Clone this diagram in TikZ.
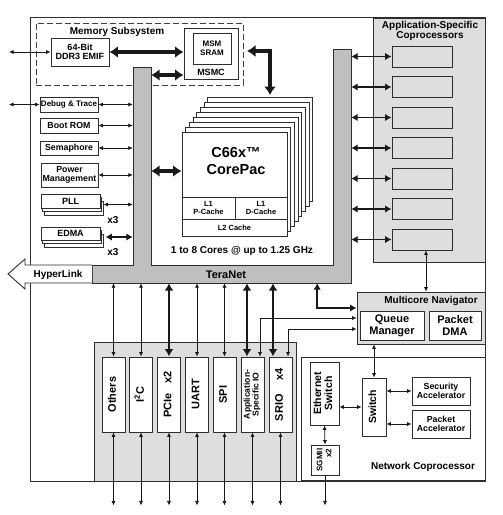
\documentclass[tikz,border=0pt]{standalone}
\usepackage{fontspec}
\setmainfont{Liberation Sans}
\usepackage{graphicx}
\usetikzlibrary{arrows.meta,calc}
\newcommand\myfs[2]{\fontsize{#1}{#2}\selectfont}
\newcommand\rotxt[2][c]{\rotatebox{90}{\begin{tabular}{@{}#1@{}}#2\end{tabular}}}
\begin{document}
\begin{tikzpicture}[x=1pt,y=-1pt,
  ln/.style={draw=black!82, line width=0.9pt},
  box/.style={ln, fill=white, inner sep=0pt, font=\bfseries, align=center},
  graybox/.style={ln, fill=black!13, inner sep=0pt},
  lbl/.style={inner sep=0pt, align=center, font=\bfseries},
  thinarr/.style={draw=black!90, line width=0.75pt, {Latex[length=4.5pt,width=4.2pt]}-{Latex[length=4.5pt,width=4.2pt]}},
  onearr/.style={draw=black!90, line width=0.75pt, -{Latex[length=4.5pt,width=4.2pt]}},
  midarr/.style={draw=black!90, line width=1.9pt, {Latex[length=6.5pt,width=7.5pt]}-{Latex[length=6.5pt,width=7.5pt]}},
  pcarr/.style={draw=black!90, line width=2.6pt, {Latex[length=7.5pt,width=9pt]}-{Latex[length=7.5pt,width=9pt]}},
  bigarr/.style={draw=black!90, line width=3.8pt, {Latex[length=8.5pt,width=12pt]}-{Latex[length=8.5pt,width=12pt]}},
]
\useasboundingbox (0,0) rectangle (503,515);
\fill[white] (0,0) rectangle (503,515);

% outer chip box
\node[ln, line width=1pt, inner sep=0pt, minimum width=455pt, minimum height=464pt] (chip) at (257.5,249) {};

% memory subsystem
\node[draw=black!75, line width=0.9pt, dash pattern=on 6pt off 3pt, inner sep=0pt, minimum width=207pt, minimum height=62pt] (memsub) at (139.5,54) {};
\node[lbl, font=\bfseries\myfs{10}{11}] (memsubt) at (117,32) {Memory Subsystem};
\node[box, minimum width=58pt, minimum height=28pt, font=\bfseries\myfs{9}{9.5}] (emif) at (80,52) {64-Bit\\DDR3 EMIF};
\node[box, minimum width=54pt, minimum height=51pt] (msmc) at (211,53.5) {};
\node[box, minimum width=38pt, minimum height=31pt, font=\bfseries\myfs{8}{9}] (msmsram) at (212,48.5) {MSM\\SRAM};
\node[lbl, font=\bfseries\myfs{9}{10}] (msmct) at (211,72) {MSMC};

% TeraNet
\draw[ln, fill=black!25] (133,67) -- (151,67) -- (151,265) -- (333,265) -- (333,49) -- (351,49) -- (351,283) -- (92,283) -- (92,265) -- (133,265) -- cycle;
\draw[ln, fill=white] (92,265) -- (25,265) -- (25,259) -- (8,274) -- (25,289) -- (25,283) -- (92,283);
\node[inner sep=0pt, minimum width=18pt, minimum height=198pt] (lbar) at (142,166) {};
\node[inner sep=0pt, minimum width=18pt, minimum height=234pt] (rbar) at (342,166) {};
\node[inner sep=0pt, minimum width=259pt, minimum height=18pt] (tnet) at (221.5,274) {};
\node[lbl, font=\bfseries\myfs{10}{11}] (hlt) at (58,275) {HyperLink};
\node[lbl, font=\bfseries\myfs{11}{12}] (tnt) at (226,275) {TeraNet};

% memory arrows
\coordinate (extE) at (9,52);
\draw[thinarr] (extE) -- (emif.west);
\draw[bigarr] (emif.east) -- (emif.east -| msmc.west);
\coordinate (msmcB) at ([yshift=-21.5pt]msmc.west);
\draw[bigarr] (msmcB -| lbar.east) -- (msmcB);
\coordinate (msmcR) at (247,51);
\coordinate (coreTop) at (270,95);
\draw[bigarr] (msmcR) -| (coreTop);

% left column
\node[box, minimum width=58pt, minimum height=15pt, font=\bfseries\myfs{8}{9}] (debug) at (69,104.5) {Debug \& Trace};
\node[box, minimum width=58pt, minimum height=15pt, font=\bfseries\myfs{8.8}{9}] (bootrom) at (69,125.5) {Boot ROM};
\node[box, minimum width=58pt, minimum height=14pt, font=\bfseries\myfs{8.8}{9}] (sema) at (69,148) {Semaphore};
\node[box, minimum width=57pt, minimum height=24pt, font=\bfseries\myfs{8.8}{9.5}] (power) at (69.5,175) {Power\\Management};
\foreach \k in {2,1}
  \node[box, minimum width=59pt, minimum height=14pt] (pllb\k) at ({70.5+1.5*\k},{201+3.5*\k}) {};
\node[box, minimum width=59pt, minimum height=14pt, font=\bfseries\myfs{9}{10}] (pll) at (70.5,201) {PLL};
\foreach \k in {2,1}
  \node[box, minimum width=59pt, minimum height=13pt] (edmab\k) at ({70.5+1.5*\k},{233.5+3.5*\k}) {};
\node[box, minimum width=59pt, minimum height=13pt, font=\bfseries\myfs{9}{10}] (edma) at (70.5,233.5) {EDMA};
\node[lbl, font=\bfseries\myfs{10}{11}] (pllx) at (113,220) {x3};
\node[lbl, font=\bfseries\myfs{10}{11}] (edmax) at (113,252) {x3};

\coordinate (extD) at (9,104.5);
\draw[thinarr] (extD) -- (debug.west);
\foreach \n in {debug,bootrom,sema,power}
  \draw[thinarr] (\n.east) -- (\n.east -| lbar.west);
\draw[thinarr] (pllb2.east |- pllb1.east) -- (pllb1.east -| lbar.west);
\draw[midarr] ([xshift=2pt]edmab2.east |- edmab1.east) -- (edmab1.east -| lbar.west);

% CorePac stack
\foreach \k in {7,6,...,1}
  \node[box, minimum width=105pt, minimum height=104pt] (coreb\k) at ({234.5+3.7*\k},{184-5*\k}) {};
\node[box, minimum width=105pt, minimum height=104pt] (core) at (234.5,184) {};
\node[lbl, font=\bfseries\myfs{14.5}{16.5}] (coret) at (236,161) {C66x™\\CorePac};
\node[box, minimum width=53pt, minimum height=22pt, font=\bfseries\myfs{7.5}{8}] (l1p) at (208.5,208) {L1\\P-Cache};
\node[box, minimum width=52pt, minimum height=22pt, font=\bfseries\myfs{7.5}{8}] (l1d) at (261,208) {L1\\D-Cache};
\node[box, minimum width=105pt, minimum height=17pt, font=\bfseries\myfs{7.5}{8}] (l2) at (234.5,227.5) {L2 Cache};
\node[lbl, font=\bfseries\myfs{10}{11}] (coresl) at (242,251) {1 to 8 Cores @ up to 1.25 GHz};
\coordinate (coreA) at ([yshift=13pt]core.west);
\draw[bigarr] (coreA -| lbar.east) -- (coreA);

% application-specific coprocessors
\node[graybox, minimum width=112pt, minimum height=244pt] (acp) at (429,140) {};
\node[lbl, font=\bfseries\myfs{10}{10}] (acpt) at (430,31) {Application-Specific\\Coprocessors};
\foreach \i in {1,...,7} {
  \node[box, fill=black!13, minimum width=60pt, minimum height=21pt] (acp\i) at (422,{26+30.5*\i}) {};
  \draw[midarr] (acp\i.west -| rbar.east) -- (acp\i.west);
}

% multicore navigator
\node[graybox, minimum width=128pt, minimum height=52pt] (nav) at (421,318) {};
\node[lbl, font=\bfseries\myfs{10}{11}] (navt) at (431,301) {Multicore Navigator};
\node[box, minimum width=64pt, minimum height=29pt, font=\bfseries\myfs{11}{12}] (qm) at (392,325.5) {Queue\\Manager};
\node[box, minimum width=52pt, minimum height=29pt, font=\bfseries\myfs{11}{12}] (pdma) at (455,325.5) {Packet\\DMA};
\coordinate (acpB) at ([xshift=4pt]acp7.south);
\draw[thinarr] (acpB) -- (acpB |- nav.north);

% peripherals
\node[graybox, minimum width=202pt, minimum height=139pt] (perg) at (195,411.5) {};
\node[box, minimum width=23pt, minimum height=75pt, font=\bfseries\myfs{11}{12}] (others) at (113.5,394.5) {\rotxt{Others}};
\node[box, minimum width=23pt, minimum height=75pt, font=\bfseries\myfs{11}{12}] (i2c) at (141,394.5) {\rotxt{I\textsuperscript{2}C}};
\node[box, minimum width=23pt, minimum height=75pt, font=\bfseries\myfs{11}{12}] (pcie) at (169,394.5) {\rotxt{PCIe\hspace{9pt}x2}};
\node[box, minimum width=23pt, minimum height=75pt, font=\bfseries\myfs{11}{12}] (uart) at (197,394.5) {\rotxt{UART}};
\node[box, minimum width=23pt, minimum height=75pt, font=\bfseries\myfs{11}{12}] (spi) at (224.5,394.5) {\rotxt{SPI}};
\node[box, minimum width=23pt, minimum height=75pt, font=\bfseries\myfs{8.5}{8.5}] (asio) at (252.5,394.5) {\rotxt{Application-\\Specific IO}};
\node[box, minimum width=23pt, minimum height=75pt, font=\bfseries\myfs{11}{12}] (srio) at (280.5,394.5) {\rotxt{SRIO\hspace{14pt}x4}};

\foreach \n in {others,i2c,uart,spi}
  \draw[thinarr] (\n.north |- tnet.south) -- (\n.north);
\draw[pcarr] (pcie.north |- tnet.south) -- (pcie.north);
\coordinate (asioA) at ([xshift=-5.5pt]asio.north);
\coordinate (srioA) at ([xshift=-7.5pt]srio.north);
\draw[pcarr] (asioA |- tnet.south) -- (asioA);
\draw[pcarr] (srioA |- tnet.south) -- (srioA);
\coordinate (asioB) at ([xshift=7.5pt]asio.north);
\coordinate (srioB) at ([xshift=7.5pt]srio.north);
\coordinate (navC) at ([yshift=-11pt]nav.west);
\coordinate (navB) at ([yshift=10pt]nav.west);
\coordinate (tn3) at ([xshift=-34pt]tnet.south east);
\draw[thinarr] (asioB) |- (nav.west);
\draw[thinarr] (srioB) |- (navC);
\draw[midarr] (tn3) |- (navB);
\foreach \n in {others,i2c,pcie,uart,spi,asio,srio}
  \draw[thinarr] (\n.south) -- ([yshift=-73pt]\n.south);

% network coprocessor
\node[box, minimum width=184pt, minimum height=123pt] (netc) at (393,418.5) {};
\node[lbl, font=\bfseries\myfs{10}{11}] (netct) at (423,467) {Network Coprocessor};
\node[box, minimum width=29pt, minimum height=63pt, font=\bfseries\myfs{10.5}{11}] (ethsw) at (324.5,393.5) {\rotxt{Ethernet\\Switch}};
\node[box, minimum width=24pt, minimum height=58pt, font=\bfseries\myfs{10.5}{11}] (switch) at (374,407) {\rotxt{Switch}};
\node[box, minimum width=28pt, minimum height=30pt, font=\bfseries\myfs{8}{9}] (sgmii) at (325,460) {\rotxt[r]{SGMII\\x2}};
\node[box, minimum width=58pt, minimum height=28pt, font=\bfseries\myfs{8.8}{9.5}] (secacc) at (441,391) {Security\\Accelerator};
\node[box, minimum width=58pt, minimum height=28pt, font=\bfseries\myfs{8.8}{9.5}] (pktacc) at (441,424) {Packet\\Accelerator};
\draw[thinarr] (ethsw.east |- switch.west) -- (switch.west);
\draw[thinarr] (switch.north) -- (switch.north |- nav.south);
\draw[thinarr] (secacc.west -| switch.east) -- (secacc.west);
\draw[thinarr] (pktacc.west -| switch.east) -- (pktacc.west);
\draw[thinarr] (ethsw.south) -- (sgmii.north);
\draw[onearr] (sgmii.south) -- ([yshift=-30pt]sgmii.south);
\end{tikzpicture}
\end{document}
